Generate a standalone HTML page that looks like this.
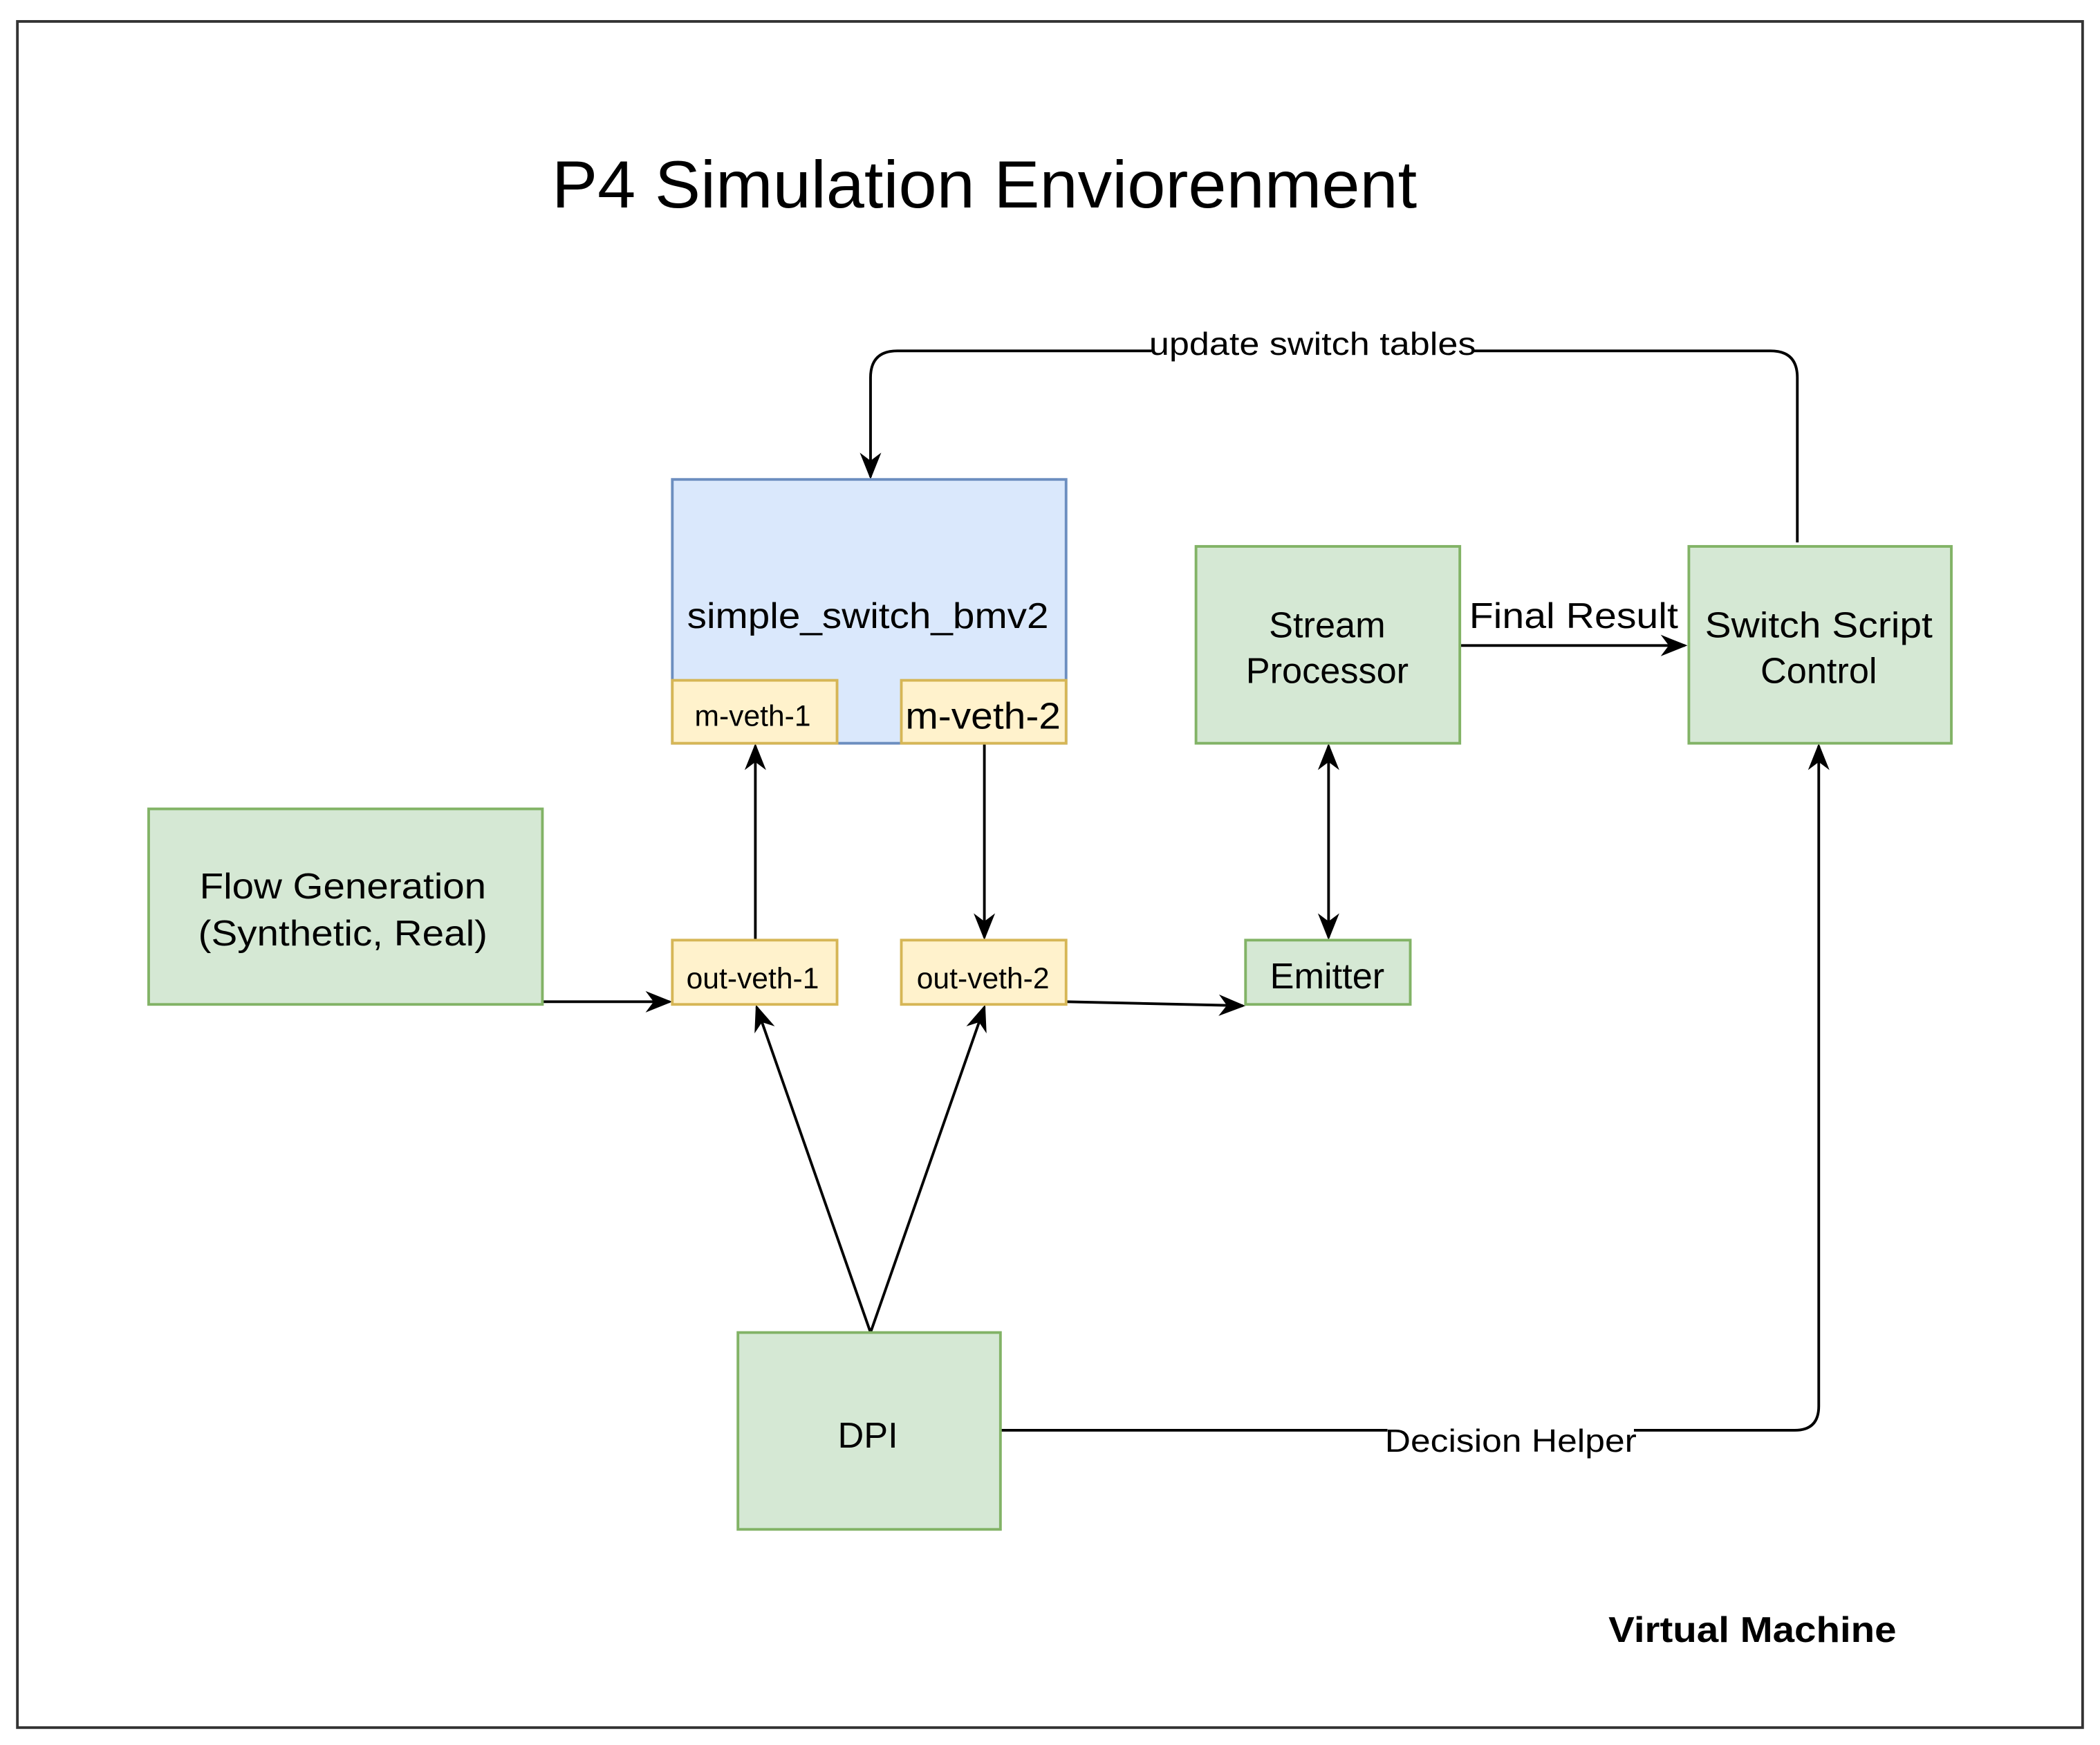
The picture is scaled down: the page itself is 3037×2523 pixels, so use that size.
<!DOCTYPE html>
<html><head><meta charset="utf-8"><style>
html,body{margin:0;padding:0;background:#fff;}
svg{display:block;}
text{font-family:"Liberation Sans",Arial,sans-serif;fill:#000;}
</style></head><body>
<svg width="3037" height="2523" viewBox="0 0 1568 1303" preserveAspectRatio="none" xmlns="http://www.w3.org/2000/svg">
<defs>
<marker id="b" viewBox="0 0 20 20" refX="18" refY="10" markerWidth="20" markerHeight="20" orient="auto-start-reverse" markerUnits="userSpaceOnUse">
<path d="M0,2 L20,10 L0,18 L6,10 Z" fill="#000"/>
</marker>
</defs>
<rect x="13" y="16" width="1542" height="1274" fill="#fff" stroke="#333" stroke-width="2"/>
<text x="412" y="155" font-size="50" textLength="646" lengthAdjust="spacingAndGlyphs">P4 Simulation Enviorenment</text>

<g fill="none" stroke="#000" stroke-width="2">
<path d="M1342,405 L1342,282 Q1342,262 1322,262 L670,262 Q650,262 650,282 L650,356" marker-end="url(#b)"/>
<path d="M1090,482 L1258,482" marker-end="url(#b)"/>
<path d="M564,702 L564,557" marker-end="url(#b)"/>
<path d="M735,555 L735,700" marker-end="url(#b)"/>
<path d="M992,557 L992,700" marker-start="url(#b)" marker-end="url(#b)"/>
<path d="M405,748 L500,748" marker-end="url(#b)"/>
<path d="M796,748 L928,751" marker-end="url(#b)"/>
<path d="M650,995 L565,752" marker-end="url(#b)"/>
<path d="M650,995 L735,752" marker-end="url(#b)"/>
<path d="M747,1068 L1340,1068 Q1358,1068 1358,1050 L1358,557" marker-end="url(#b)"/>
</g>
<rect x="860" y="244" width="240" height="26" fill="#fff"/>
<text x="858" y="265" font-size="24" textLength="244" lengthAdjust="spacingAndGlyphs">update switch tables</text>
<rect x="1036" y="1060" width="184" height="28" fill="#fff"/>
<text x="1034" y="1084" font-size="24" textLength="188" lengthAdjust="spacingAndGlyphs">Decision Helper</text>
<text x="1097" y="469" font-size="27" textLength="156" lengthAdjust="spacingAndGlyphs">Final Result</text>

<rect x="502" y="358" width="294" height="197" fill="#dae8fc" stroke="#6c8ebf" stroke-width="2"/>
<text x="513" y="469" font-size="27" textLength="270" lengthAdjust="spacingAndGlyphs">simple_switch_bmv2</text>
<rect x="502" y="508" width="123" height="47" fill="#fff2cc" stroke="#d6b656" stroke-width="2"/>
<text x="562" y="542" font-size="22" text-anchor="middle">m-veth-1</text>
<rect x="673" y="508" width="123" height="47" fill="#fff2cc" stroke="#d6b656" stroke-width="2"/>
<text x="676" y="544" font-size="28" textLength="116" lengthAdjust="spacingAndGlyphs">m-veth-2</text>

<g fill="#d5e8d4" stroke="#82b366" stroke-width="2">
<rect x="893" y="408" width="197" height="147"/>
<rect x="1261" y="408" width="196" height="147"/>
<rect x="111" y="604" width="294" height="146"/>
<rect x="930" y="702" width="123" height="48"/>
<rect x="551" y="995" width="196" height="147"/>
</g>
<text x="991" y="476" font-size="27" text-anchor="middle">Stream</text>
<text x="991" y="510" font-size="27" text-anchor="middle">Processor</text>
<text x="1273" y="476" font-size="27" textLength="170" lengthAdjust="spacingAndGlyphs">Switch Script</text>
<text x="1358" y="510" font-size="27" text-anchor="middle">Control</text>
<text x="149" y="671" font-size="27" textLength="214" lengthAdjust="spacingAndGlyphs">Flow Generation</text>
<text x="148" y="706" font-size="27" textLength="216" lengthAdjust="spacingAndGlyphs">(Synthetic, Real)</text>
<text x="991" y="738" font-size="27" text-anchor="middle">Emitter</text>
<text x="648" y="1081" font-size="27" text-anchor="middle">DPI</text>

<rect x="502" y="702" width="123" height="48" fill="#fff2cc" stroke="#d6b656" stroke-width="2"/>
<text x="562" y="738" font-size="22" text-anchor="middle">out-veth-1</text>
<rect x="673" y="702" width="123" height="48" fill="#fff2cc" stroke="#d6b656" stroke-width="2"/>
<text x="734" y="738" font-size="22" text-anchor="middle">out-veth-2</text>

<text x="1201" y="1226" font-size="27" font-weight="bold" textLength="215" lengthAdjust="spacingAndGlyphs">Virtual Machine</text>
</svg>
</body></html>
